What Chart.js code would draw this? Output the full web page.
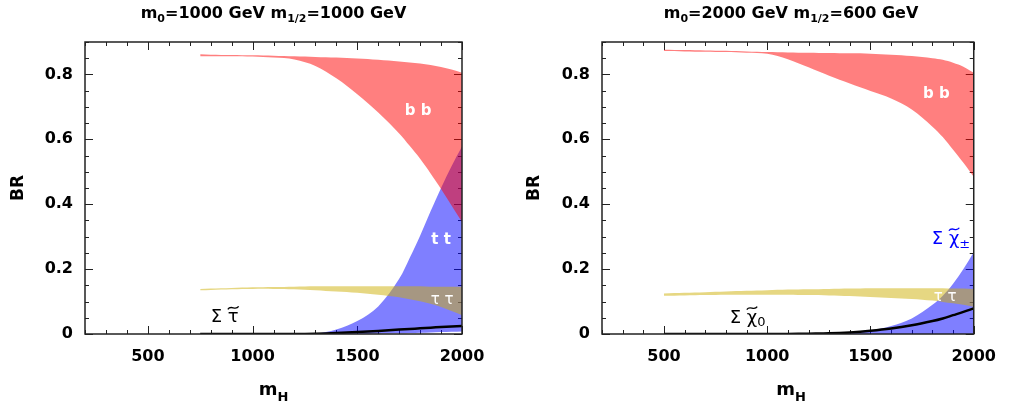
<!DOCTYPE html>
<html>
<head>
<meta charset="utf-8">
<script src="https://cdn.jsdelivr.net/npm/chart.js@4.4.1/dist/chart.umd.min.js"></script>
<style>
  body { margin: 0; background: #fff; }
  #wrap { position: relative; width: 1009px; height: 407px; font-family: "DejaVu Sans", sans-serif; }
  canvas { position: absolute; top: 0; }
  .ttl { position: absolute; top: 3px; text-align: center; font-weight: bold; font-size: 16px; line-height: 20px; }
  .ttl sub { font-size: 11px; vertical-align: -4px; line-height: 0; }
  .xt { position: absolute; top: 378px; text-align: center; font-weight: bold; font-size: 18px; line-height: 22px; }
  .xt sub { font-size: 13px; vertical-align: -6px; line-height: 0; }
  .yt { position: absolute; top: 178px; width: 40px; text-align: center; font-weight: bold; font-size: 17px; line-height: 20px; transform: rotate(-90deg); }
</style>
</head>
<body>
<div id="wrap">
  <canvas id="left" width="505" height="407" style="left:0"></canvas>
  <canvas id="right" width="504" height="407" style="left:505px"></canvas>
  <div class="ttl" style="left:85px;width:377px">m<sub>0</sub>=1000 GeV m<sub>1/2</sub>=1000 GeV</div>
  <div class="ttl" style="left:602px;width:378px">m<sub>0</sub>=2000 GeV m<sub>1/2</sub>=600 GeV</div>
  <div class="xt" style="left:85px;width:377px">m<sub>H</sub></div>
  <div class="xt" style="left:602px;width:378px">m<sub>H</sub></div>
  <div class="yt" style="left:-3px">BR</div>
  <div class="yt" style="left:513px">BR</div>
</div>
<script>
// ---- left panel: m0=1000, m1/2=1000 ----
const massL = [750, 800, 900, 1000, 1100, 1200, 1300, 1400, 1500, 1600, 1700, 1750, 1800, 1850, 1900, 1950, 2000];
const bbHiL = [0.862, 0.861, 0.860, 0.859, 0.858, 0.856, 0.854, 0.852, 0.849, 0.845, 0.840, 0.837, 0.834, 0.829, 0.823, 0.815, 0.805];
const bbLoL = [0.856, 0.856, 0.856, 0.855, 0.852, 0.846, 0.826, 0.788, 0.739, 0.683, 0.618, 0.580, 0.540, 0.495, 0.447, 0.396, 0.345];
const ttHiL = [0, 0, 0, 0, 0, 0, 0.001, 0.014, 0.040, 0.085, 0.170, 0.234, 0.303, 0.378, 0.450, 0.517, 0.578];
const ttLoL = [0, 0, 0, 0, 0, 0, 0, 0, 0, 0.001, 0.002, 0.003, 0.004, 0.005, 0.006, 0.007, 0.008];
const tauHiL = [0.139, 0.140, 0.142, 0.144, 0.145, 0.146, 0.147, 0.147, 0.147, 0.147, 0.147, 0.147, 0.147, 0.146, 0.146, 0.146, 0.146];
const tauLoL = [0.135, 0.136, 0.138, 0.139, 0.139, 0.138, 0.135, 0.131, 0.127, 0.121, 0.113, 0.107, 0.101, 0.093, 0.083, 0.071, 0.058];
const stauL = [0, 0, 0, 0, 0, 0, 0.001, 0.003, 0.006, 0.0095, 0.0135, 0.0155, 0.0175, 0.0195, 0.0215, 0.023, 0.025];

// ---- right panel: m0=2000, m1/2=600 ----
const massR = [500, 600, 700, 800, 900, 1000, 1100, 1200, 1300, 1400, 1500, 1600, 1700, 1800, 1850, 1900, 1950, 2000];
const bbHiR = [0.876, 0.875, 0.874, 0.873, 0.871, 0.869, 0.868, 0.867, 0.866, 0.865, 0.864, 0.861, 0.857, 0.850, 0.845, 0.836, 0.824, 0.805];
const bbLoR = [0.872, 0.871, 0.870, 0.869, 0.867, 0.864, 0.847, 0.822, 0.796, 0.772, 0.749, 0.726, 0.692, 0.639, 0.607, 0.568, 0.528, 0.485];
const chiHiR = [0, 0, 0, 0, 0, 0, 0, 0, 0.001, 0.004, 0.011, 0.025, 0.048, 0.090, 0.118, 0.155, 0.200, 0.252];
const chiLoR = [0, 0, 0, 0, 0, 0, 0, 0, 0, 0, 0, 0, 0, 0, 0, 0, 0, 0];
const tauHiR = [0.125, 0.127, 0.129, 0.131, 0.133, 0.135, 0.137, 0.138, 0.139, 0.140, 0.141, 0.141, 0.141, 0.141, 0.141, 0.140, 0.140, 0.139];
const tauLoR = [0.118, 0.119, 0.120, 0.121, 0.121, 0.121, 0.121, 0.120, 0.119, 0.117, 0.114, 0.111, 0.108, 0.103, 0.099, 0.095, 0.090, 0.084];
const neuR = [0, 0, 0, 0, 0, 0, 0, 0.001, 0.002, 0.005, 0.010, 0.017, 0.027, 0.040, 0.048, 0.058, 0.068, 0.079];

const xTicks = [500, 1000, 1500, 2000];
const yTicks = [0, 0.2, 0.4, 0.6, 0.8];

const RED = 'rgba(255,0,0,0.5)';
const BLUE = 'rgba(0,0,255,0.5)';
const TAN = 'rgba(205,175,5,0.5)';

function pts(xs, ys) {
  return xs.map((x, i) => ({ x: x, y: ys[i] }));
}

function band(xs, lo, hi, color) {
  return [
    { data: pts(xs, lo), borderWidth: 0, pointRadius: 0, fill: false, tension: 0.35 },
    { data: pts(xs, hi), borderWidth: 0, pointRadius: 0, fill: '-1', backgroundColor: color, tension: 0.35 }
  ];
}

function line(xs, ys) {
  return { data: pts(xs, ys), borderColor: '#000', borderWidth: 2.5, pointRadius: 0, fill: false, tension: 0.35 };
}

// inward tick marks on all four sides, plus the frame
const frame = {
  id: 'frame',
  beforeDatasetsDraw(chart) {
    const { ctx, chartArea: a, scales } = chart;
    ctx.save();
    ctx.strokeStyle = '#222';
    ctx.lineWidth = 1;
    ctx.beginPath();
    for (let v = 200; v <= 2000; v += 100) {
      const px = Math.round(scales.x.getPixelForValue(v)) + 0.5;
      const len = v % 500 === 0 ? 8 : 4;
      ctx.moveTo(px, a.bottom); ctx.lineTo(px, a.bottom - len);
      ctx.moveTo(px, a.top); ctx.lineTo(px, a.top + len);
    }
    for (let k = 0; k <= 18; k++) {
      const py = Math.round(scales.y.getPixelForValue(k * 0.05)) + 0.5;
      const len = k % 4 === 0 ? 8 : 4;
      ctx.moveTo(a.left, py); ctx.lineTo(a.left + len, py);
      ctx.moveTo(a.right, py); ctx.lineTo(a.right - len, py);
    }
    ctx.stroke();
    ctx.restore();
  },
  afterDraw(chart) {
    const { ctx, chartArea: a } = chart;
    ctx.save();
    ctx.strokeStyle = '#222';
    ctx.lineWidth = 1.5;
    ctx.strokeRect(a.left, a.top, a.right - a.left, a.bottom - a.top);
    ctx.restore();
  }
};

// band names written at data coordinates (optional tilde over the base letter, optional subscript)
const names = {
  id: 'names',
  afterDatasetsDraw(chart, args, opts) {
    const { ctx, scales } = chart;
    ctx.save();
    ctx.textBaseline = 'middle';
    ctx.textAlign = 'left';
    (opts.items || []).forEach(it => {
      const x = scales.x.getPixelForValue(it.x);
      const y = scales.y.getPixelForValue(it.y);
      ctx.font = it.font;
      const pre = it.pre || '';
      const wPre = ctx.measureText(pre).width;
      const wBase = ctx.measureText(it.text).width;
      let wSub = 0;
      if (it.sub) {
        ctx.font = it.subFont;
        wSub = ctx.measureText(it.sub).width;
      }
      const x0 = x - (wPre + wBase + wSub) / 2;
      ctx.fillStyle = it.color;
      ctx.strokeStyle = it.color;
      ctx.font = it.font;
      ctx.fillText(pre + it.text, x0, y);
      if (it.tilde) {
        const tx = x0 + wPre, tw = wBase, ty = y - 10;
        ctx.lineWidth = 1.3;
        ctx.beginPath();
        ctx.moveTo(tx, ty + 1.5);
        ctx.bezierCurveTo(tx + tw * 0.3, ty - 3.5, tx + tw * 0.7, ty + 3.5, tx + tw, ty - 1.5);
        ctx.stroke();
      }
      if (it.sub) {
        ctx.font = it.subFont;
        ctx.fillText(it.sub, x0 + wPre + wBase, y + 5);
      }
    });
    ctx.restore();
  }
};

function makeChart(id, yWidth, rightPad, datasets, items) {
  new Chart(document.getElementById(id), {
    type: 'line',
    data: { datasets: datasets },
    plugins: [frame, names],
    options: {
      responsive: false,
      animation: false,
      devicePixelRatio: 1,
      layout: { padding: { top: 42, right: rightPad, left: 0, bottom: 0 } },
      plugins: {
        legend: { display: false },
        tooltip: { enabled: false },
        filler: { propagate: false },
        names: { items: items }
      },
      scales: {
        x: {
          type: 'linear', min: 200, max: 2000,
          grid: { display: false, drawTicks: false },
          border: { display: false },
          afterBuildTicks: s => { s.ticks = xTicks.map(v => ({ value: v })); },
          afterFit: s => { s.height = 73; },
          ticks: { padding: 13, color: '#000', font: { family: 'DejaVu Sans', size: 16, weight: 'bold' }, callback: v => String(v) }
        },
        y: {
          type: 'linear', min: 0, max: 0.9,
          grid: { display: false, drawTicks: false },
          border: { display: false },
          afterBuildTicks: s => { s.ticks = yTicks.map(v => ({ value: v })); },
          afterFit: s => { s.width = yWidth; },
          ticks: { padding: 12, color: '#000', font: { family: 'DejaVu Sans', size: 16, weight: 'bold' }, callback: v => v === 0 ? '0' : v.toFixed(1) }
        }
      }
    }
  });
}

const bold15 = 'bold 15px "DejaVu Sans"';
const reg15 = '15px "DejaVu Sans"';
const reg18 = '18px "DejaVu Sans"';
const sub13 = '13px "DejaVu Sans"';

// dataset order: line first (drawn last, on top), then red, tan, blue
makeChart('left', 85, 43, [
  line(massL, stauL),
  ...band(massL, bbLoL, bbHiL, RED),
  ...band(massL, tauLoL, tauHiL, TAN),
  ...band(massL, ttLoL, ttHiL, BLUE)
], [
  { text: 'b b', x: 1790, y: 0.686, color: '#fff', font: bold15 },
  { text: 't t', x: 1900, y: 0.289, color: '#fff', font: bold15 },
  { text: '\u03c4 \u03c4', x: 1905, y: 0.105, color: '#fff', font: reg15 },
  { pre: '\u03a3 ', text: '\u03c4', tilde: true, x: 867, y: 0.050, color: '#000', font: reg18 }
]);

makeChart('right', 97, 29, [
  line(massR, neuR),
  ...band(massR, bbLoR, bbHiR, RED),
  ...band(massR, tauLoR, tauHiR, TAN),
  ...band(massR, chiLoR, chiHiR, BLUE)
], [
  { text: 'b b', x: 1819, y: 0.738, color: '#fff', font: bold15 },
  { pre: '\u03a3 ', text: '\u03c7', tilde: true, sub: '\u00b1', x: 1890, y: 0.292, color: '#0000ff', font: reg18, subFont: sub13 },
  { text: '\u03c4 \u03c4', x: 1862, y: 0.114, color: '#fff', font: reg15 },
  { pre: '\u03a3 ', text: '\u03c7', tilde: true, sub: '0', x: 905, y: 0.049, color: '#000', font: reg18, subFont: sub13 }
]);
</script>
</body>
</html>
